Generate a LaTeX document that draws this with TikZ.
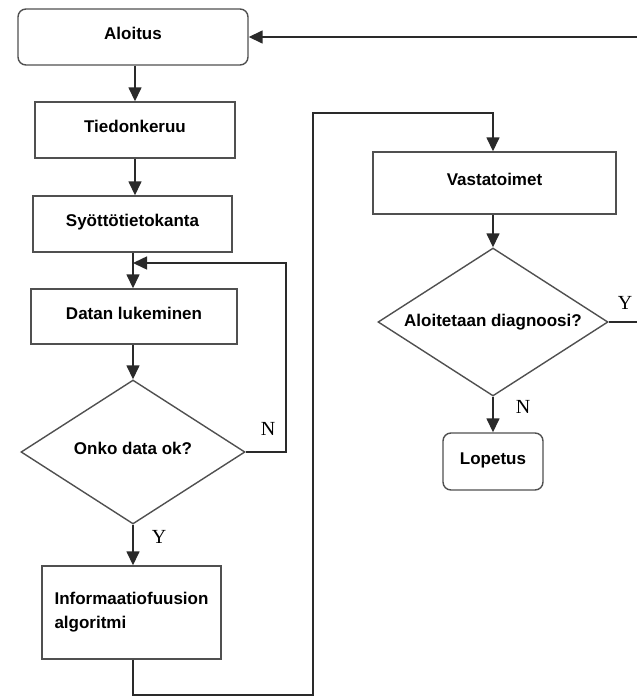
\documentclass[tikz,border=0pt]{standalone}
\usepackage{fontspec}
\setmainfont{Liberation Sans}
\newfontfamily\ynfont{Liberation Serif}
\usetikzlibrary{shapes.geometric,arrows.meta}
\definecolor{boxgray}{HTML}{505050}
\definecolor{linegray}{HTML}{2A2A2A}
\begin{document}
\begin{tikzpicture}[x=1pt,y=-1pt,
  every node/.style={font=\bfseries\fontsize{17}{24}\selectfont},
  stepbox/.style={draw=boxgray,line width=1.4pt,inner sep=0pt,
    text height=12pt,text depth=7pt},
  roundbox/.style={stepbox,rounded corners=8pt},
  decision/.style={draw=boxgray,line width=1.4pt,diamond,inner sep=0pt},
  conn/.style={draw=linegray,line width=1.5pt},
  arr/.style={conn,-{Triangle[length=14pt,width=13pt]}},
  yn/.style={font=\ynfont\fontsize{20}{20}\selectfont}]
\useasboundingbox (0,0) rectangle (637,697);

% left column
\node[roundbox,minimum width=230pt,minimum height=56pt] (aloitus) at (133,37) {Aloitus};
\node[stepbox,minimum width=200pt,minimum height=56pt] (tiedon) at (135,130) {Tiedonkeruu};
\node[stepbox,minimum width=199pt,minimum height=56pt] (syotto) at (132.5,224) {Syöttötietokanta};
\node[stepbox,minimum width=206pt,minimum height=55pt] (datan) at (134,316.5) {Datan lukeminen};
\node[decision,minimum width=224pt,minimum height=144pt,text depth=8pt,text height=12pt] (onko) at (133,452) {\makebox[0pt]{Onko data ok?}};
\node[draw=boxgray,line width=1.4pt,inner sep=0pt,minimum width=179pt,minimum height=93pt,align=left] (info) at (131.5,612.5) {Informaatiofuusion\\algoritmi};

% right column
\node[stepbox,minimum width=243pt,minimum height=62pt] (vasta) at (494.5,183) {Vastatoimet};
\node[decision,minimum width=230pt,minimum height=148pt] (diag) at (493,322) {\makebox[0pt]{Aloitetaan diagnoosi?}};
\node[roundbox,minimum width=100pt,minimum height=57pt] (lopetus) at (493,461.5) {Lopetus};

% routing points
\coordinate (merge) at (133,263);
\coordinate (nloop) at (286,263);
\coordinate (low) at (313,695);
\coordinate (high) at (313,113);
\coordinate (edgeA) at (641,322);
\coordinate (edgeB) at (641,37);

% main flow
\draw[arr] (aloitus.south -| tiedon) -- (tiedon.north);
\draw[arr] (tiedon.south) -- (tiedon.south |- syotto.north);
\draw[arr] (syotto.south -| merge) -- (datan.north -| merge);
\draw[arr] (datan.south -| onko) -- (onko.north);
\draw[arr] (onko.south) -- (onko.south |- info.north);
\draw[arr] (onko.east) -| (nloop) -- (merge);
\draw[arr] (info.south -| onko) |- (low) -- (high) -| (vasta.north -| diag);
\draw[arr] (vasta.south -| diag) -- (diag.north);
\draw[arr] (diag.south) -- (lopetus.north);
\draw[arr] (diag.east) -- (edgeA) -- (edgeB) -- (aloitus.east);

% branch labels
\node[yn] (nleft) at (268,429) {N};
\node[yn] (yleft) at (159,537) {Y};
\node[yn] (yright) at (625,303) {Y};
\node[yn] (nright) at (523,407) {N};
\end{tikzpicture}
\end{document}
